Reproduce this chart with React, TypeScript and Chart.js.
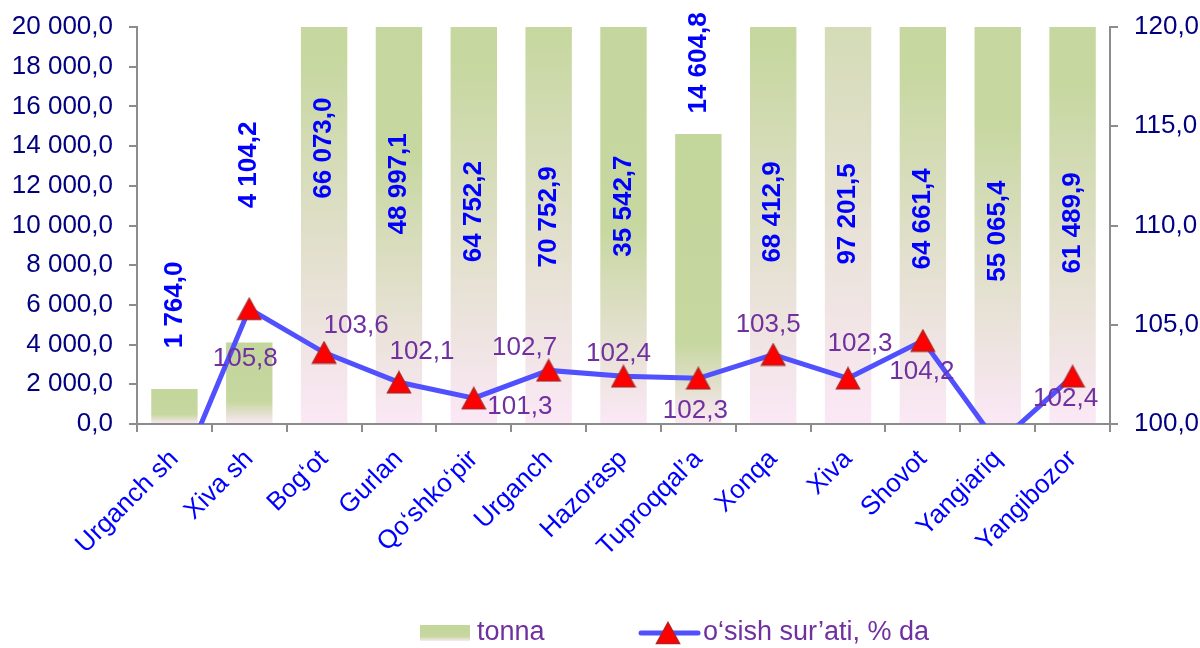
import React, { useEffect, useRef } from 'react';
import { Chart, registerables } from 'chart.js';

Chart.register(...registerables);

const categories = ['Urganch sh', 'Xiva sh', 'Bog‘ot', 'Gurlan', 'Qo‘shko‘pir', 'Urganch', 'Hazorasp', 'Tuproqqal’a', 'Xonqa', 'Xiva', 'Shovot', 'Yangiariq', 'Yangibozor'];
const tonnaValues = [1764.0, 4104.2, 66073.0, 48997.1, 64752.2, 70752.9, 35542.7, 14604.8, 68412.9, 97201.5, 64661.4, 55065.4, 61489.9];
const growthValues = [96.8, 105.8, 103.6, 102.1, 101.3, 102.7, 102.4, 102.3, 103.5, 102.3, 104.2, 99.0, 102.4];
const leftTicks = [0, 2000, 4000, 6000, 8000, 10000, 12000, 14000, 16000, 18000, 20000];
const rightTicks = [100, 105, 110, 115, 120];
const seriesNames = ['tonna', 'o‘sish sur’ati, % da'];

// label placement (left-axis units for bar labels, pixel offsets for % labels)
const barLabelAnchor = [6000, 13050, 13900, 12100, 10700, 10430, 10980, 18190, 10680, 10580, 10330, 9720, 10130];
const pctLabelDx = [0, -4, 32, 23, 46, -24, -5, -3, -5, 12, -1, 0, -7];
const pctLabelDy = [0, 50, -27, -30, 9, -23, -23, 32, -30, -35, 31, 0, 22];

const FONT = '"Liberation Sans", Arial, sans-serif';

function fmt(v: number, d = 1): string {
  const s = v.toFixed(d);
  const [i, f] = s.split('.');
  return i.replace(/\B(?=(\d{3})+(?!\d))/g, ' ') + (f !== undefined ? ',' + f : '');
}

function makeTriangle(): HTMLCanvasElement {
  const c = document.createElement('canvas');
  c.width = 26;
  c.height = 24;
  const g = c.getContext('2d')!;
  g.beginPath();
  g.moveTo(13, 1.5);
  g.lineTo(24.5, 22.5);
  g.lineTo(1.5, 22.5);
  g.closePath();
  g.fillStyle = '#FF0000';
  g.fill();
  g.strokeStyle = '#B22222';
  g.lineWidth = 1.5;
  g.stroke();
  return c;
}

export default function App() {
  const ref = useRef<HTMLCanvasElement>(null);

  useEffect(() => {
    if (!ref.current) return;
    const tri = makeTriangle();

    const labelPlugin = {
      id: 'valueLabels',
      afterDatasetsDraw(chart: any) {
        const ctx = chart.ctx;
        const yL = chart.scales.y;
        const yR = chart.scales.y1;
        ctx.save();
        ctx.textAlign = 'center';
        ctx.textBaseline = 'middle';
        ctx.fillStyle = '#0000FF';
        ctx.font = 'bold 26px ' + FONT;
        chart.getDatasetMeta(0).data.forEach((el: any, i: number) => {
          const y = yL.getPixelForValue(barLabelAnchor[i]);
          ctx.save();
          ctx.translate(el.x, y);
          ctx.rotate(-Math.PI / 2);
          ctx.fillText(fmt(tonnaValues[i]), 0, 0);
          ctx.restore();
        });
        ctx.fillStyle = '#7030A0';
        ctx.font = '26px ' + FONT;
        chart.getDatasetMeta(1).data.forEach((el: any, i: number) => {
          const v = growthValues[i];
          if (v < yR.min || v > yR.max) return;
          ctx.fillText(fmt(v), el.x + pctLabelDx[i], el.y + pctLabelDy[i]);
        });
        ctx.restore();
      },
    };

    const legendPlugin = {
      id: 'customLegend',
      afterDraw(chart: any) {
        const ctx = chart.ctx;
        ctx.save();
        const y = 633;
        const g = ctx.createLinearGradient(0, 625, 0, 641);
        g.addColorStop(0, '#C3D69B');
        g.addColorStop(0.72, '#C6D79F');
        g.addColorStop(1, '#FBE8F6');
        ctx.fillStyle = g;
        ctx.fillRect(420, 625, 50, 16);
        ctx.fillStyle = '#7030A0';
        ctx.font = '27px ' + FONT;
        ctx.textAlign = 'left';
        ctx.textBaseline = 'middle';
        ctx.fillText(seriesNames[0], 477, y);
        ctx.strokeStyle = '#5050FF';
        ctx.lineWidth = 5;
        ctx.lineCap = 'round';
        ctx.beginPath();
        ctx.moveTo(641, y);
        ctx.lineTo(698, y);
        ctx.stroke();
        ctx.drawImage(tri, 668 - 13, y - 12);
        ctx.fillStyle = '#7030A0';
        ctx.fillText(seriesNames[1], 703, y);
        ctx.restore();
      },
    };

    const axisGrid = { display: true, drawOnChartArea: false, tickLength: 8, color: '#8C8C8C', lineWidth: 2 };
    const axisBorder = { display: true, color: '#8C8C8C', width: 2 };
    const fitVertical = (w: number) => (s: any) => {
      s.width = w;
      s.paddingTop = 0;
      s.paddingBottom = 0;
    };

    const chart = new Chart(ref.current, {
      type: 'bar',
      data: {
        labels: categories,
        datasets: [
          {
            type: 'bar',
            label: seriesNames[0],
            data: tonnaValues,
            yAxisID: 'y',
            order: 2,
            barPercentage: 0.62,
            categoryPercentage: 1,
            backgroundColor: (c: any) => {
              const chart = c.chart;
              if (!chart.chartArea || c.dataIndex === undefined) return '#C3D69B';
              const ys = chart.scales.y;
              const top = ys.getPixelForValue(tonnaValues[c.dataIndex]);
              const base = ys.getPixelForValue(0);
              const g = chart.ctx.createLinearGradient(0, top, 0, base);
              g.addColorStop(0, '#C3D69B');
              g.addColorStop(0.72, '#C6D79F');
              g.addColorStop(1, '#FBE8F6');
              return g;
            },
            borderWidth: 0,
          } as any,
          {
            type: 'line',
            label: seriesNames[1],
            data: growthValues,
            yAxisID: 'y1',
            order: 1,
            borderColor: '#5050FF',
            borderWidth: 5,
            tension: 0,
            pointStyle: tri,
            pointRadius: 12,
            pointHoverRadius: 12,
            clip: { left: 20, top: 20, right: 20, bottom: 0 },
          } as any,
        ],
      },
      options: {
        animation: false,
        responsive: false,
        maintainAspectRatio: false,
        layout: { padding: { top: 27, left: 0, right: 0, bottom: 0 } },
        plugins: { legend: { display: false }, tooltip: { enabled: false } },
        scales: {
          x: {
            offset: true,
            grid: { ...axisGrid, offset: true },
            border: axisBorder,
            ticks: {
              color: '#0000FF',
              font: { size: 26, family: FONT },
              minRotation: 45,
              maxRotation: 45,
              autoSkip: false,
              padding: 12,
            },
            afterFit: (s: any) => {
              s.height = 224;
              s.paddingLeft = 0;
              s.paddingRight = 0;
            },
          },
          y: {
            position: 'left',
            min: 0,
            max: 20000,
            afterBuildTicks: (s: any) => { s.ticks = leftTicks.map((v) => ({ value: v })); },
            grid: axisGrid,
            border: axisBorder,
            ticks: {
              color: '#000080',
              font: { size: 26, family: FONT },
              padding: 16,
              callback: (v: any) => fmt(Number(v)),
            },
            afterFit: fitVertical(137),
          },
          y1: {
            position: 'right',
            min: 100,
            max: 120,
            afterBuildTicks: (s: any) => { s.ticks = rightTicks.map((v) => ({ value: v })); },
            grid: axisGrid,
            border: axisBorder,
            ticks: {
              color: '#000080',
              font: { size: 26, family: FONT },
              padding: 16,
              callback: (v: any) => fmt(Number(v)),
            },
            afterFit: fitVertical(90),
          },
        },
      } as any,
      plugins: [labelPlugin, legendPlugin],
    });

    return () => chart.destroy();
  }, []);

  return (
    <div style={{ position: 'absolute', left: 0, top: 0, width: 1200, height: 648, background: '#FFFFFF' }}>
      <canvas ref={ref} width={1200} height={648} style={{ display: 'block' }} />
    </div>
  );
}
